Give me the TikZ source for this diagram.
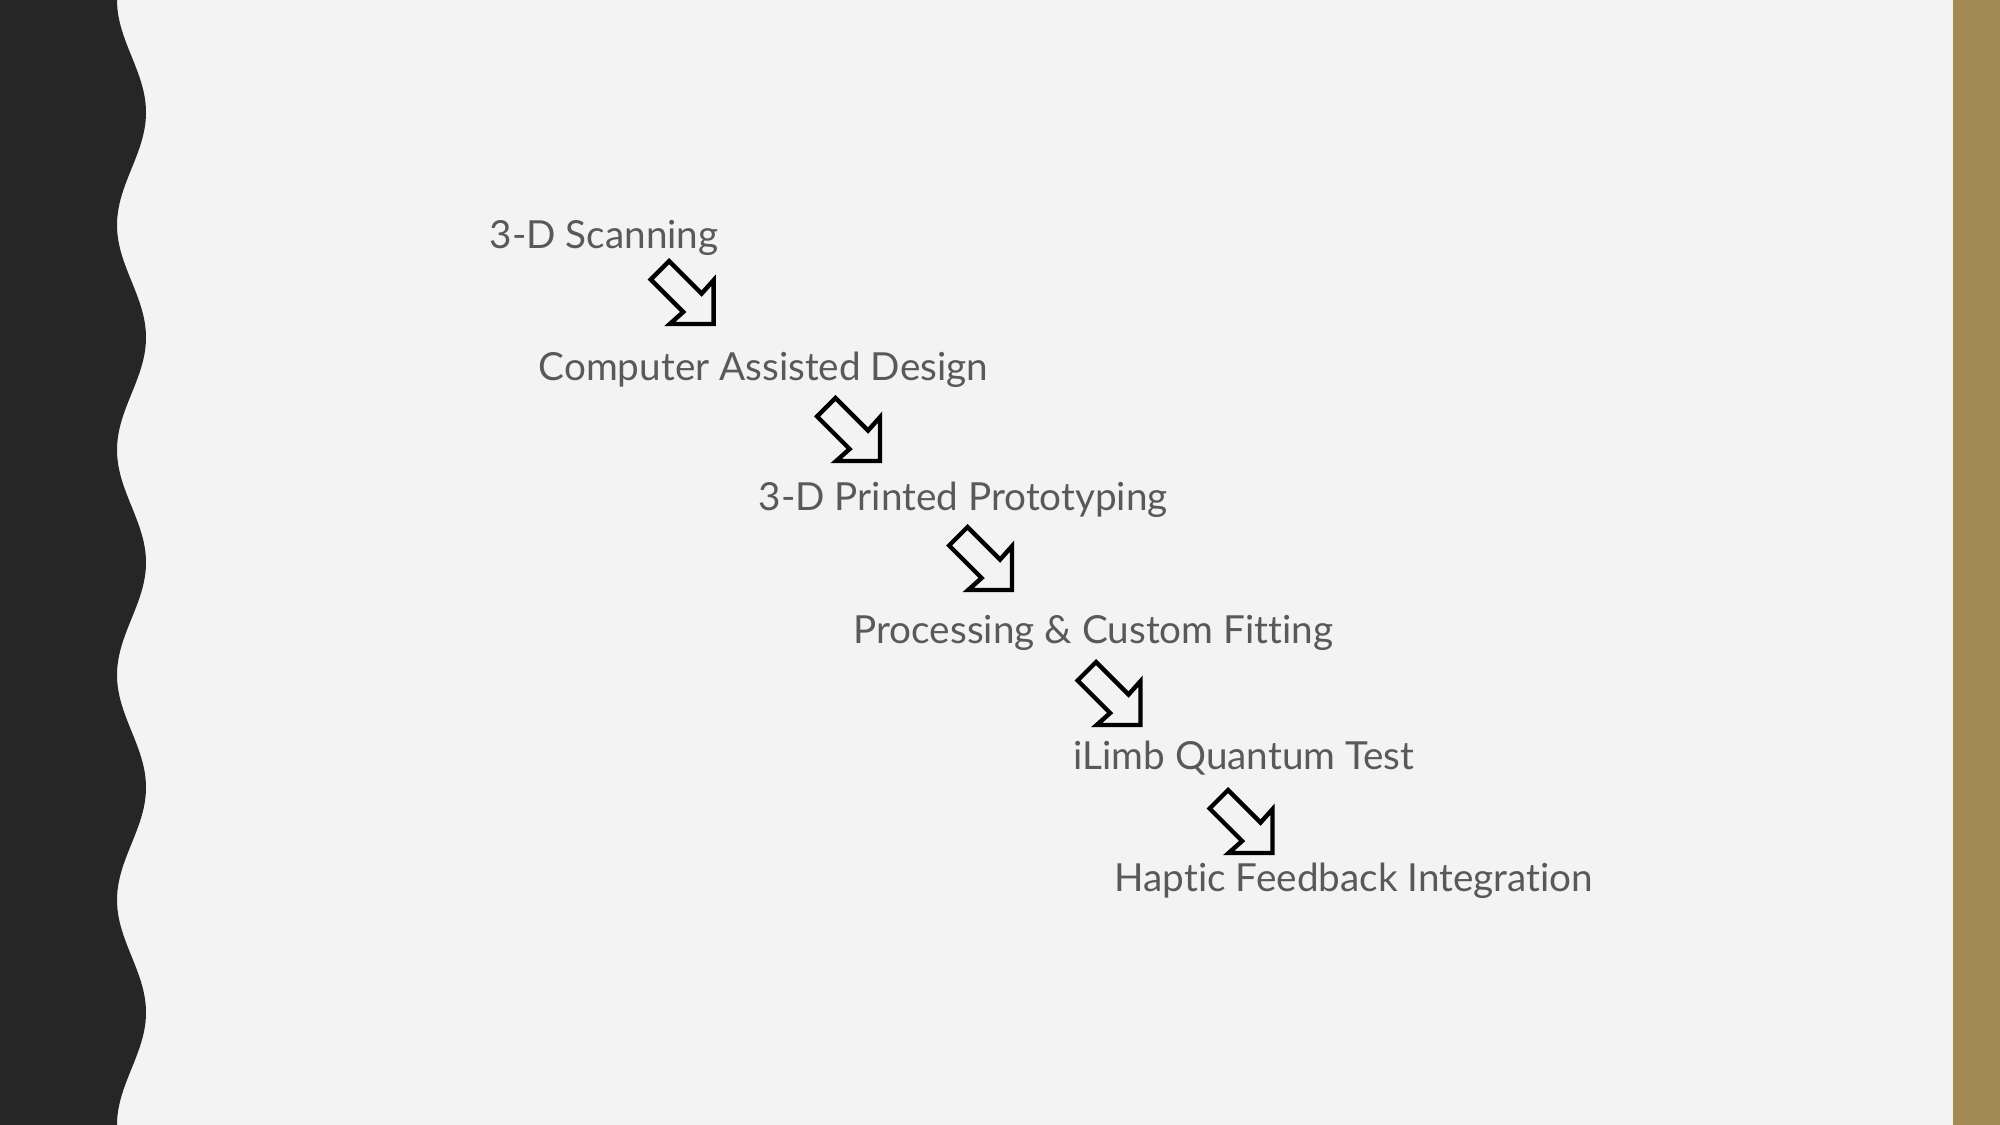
\documentclass[tikz,border=0pt]{standalone}
\usepackage{fontspec}
\setmainfont[Ligatures=NoCommon]{Lato}
\definecolor{slidebg}{HTML}{F3F3F3}
\definecolor{waveband}{HTML}{262626}
\definecolor{goldbar}{HTML}{A28B55}
\definecolor{stagegray}{HTML}{595959}
\begin{document}
\begin{tikzpicture}[
                        x=0.01cm, y=-0.01cm,
                        stage/.style={anchor=base west, inner sep=0pt, text=stagegray,
                                      font=\fontsize{11}{13}\selectfont},
                        blockarrow/.pic={
                            \draw [line width=1.25pt, black]
                                (0,0) -- (0,-43.8) -- (-12,-30.4) -- (-44.5,-62.9)
                                -- (-62.9,-44.5) -- (-30.4,-12) -- (-43.8,0) -- cycle;
                        }
                    ]
                    % Background
                    \useasboundingbox (0,0) rectangle (2000,1125);
                    \fill [slidebg] (0,0) rectangle (2000,1125);
                    \fill [waveband] (0,0) -- plot [domain=0:1125, samples=250, variable=\t]
                        ({131.5-14.5*cos(1.6*\t)}, \t) -- (0,1125) -- cycle;
                    \fill [goldbar] (1953,0) rectangle (2000,1125);

                    % Blocks
                    \node [stage] (scan) at (489,249) {3-D Scanning};
                    \node [stage] (cad) at (538,381) {Computer Assisted Design};
                    \node [stage] (print) at (758,511) {3-D Printed Prototyping};
                    \node [stage] (fit) at (853,643) {Processing \& Custom Fitting};
                    \node [stage] (test) at (1073,769) {iLimb Quantum Test};
                    \node [stage] (haptic) at (1114,891) {Haptic Feedback Integration};

                    % Arrows
                    \foreach \tip in {(713.6,324), (880,461), (1012,590), (1140.5,725), (1272.5,853)}
                        \pic at \tip {blockarrow};
                \end{tikzpicture}
\end{document}
